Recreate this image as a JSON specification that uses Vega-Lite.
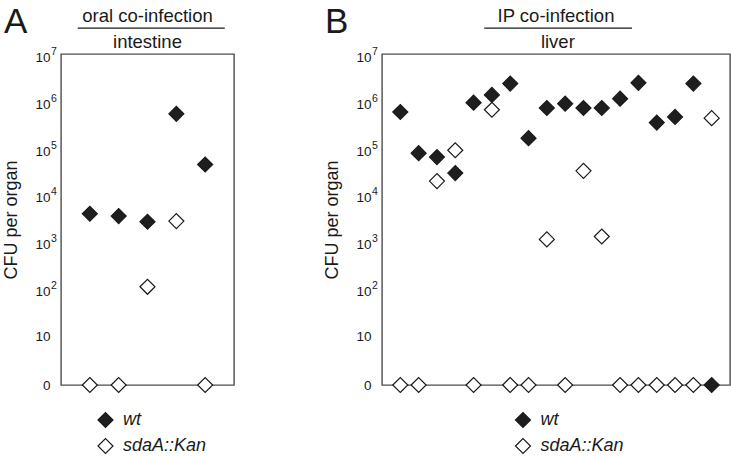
{
  "$schema": "https://vega.github.io/schema/vega-lite/v6.json",
  "padding": {"left": 2, "top": 4, "right": 5, "bottom": 0},
  "config": {
    "font": "Liberation Sans",
    "view": {"stroke": "#4d4d4d", "strokeWidth": 1.4},
    "axis": {"labelColor": "#1a1a1a", "titleColor": "#1a1a1a", "grid": false, "domain": false, "ticks": false, "labelFont": "Liberation Sans", "titleFont": "Liberation Sans"},
    "legend": {"labelFont": "Liberation Sans"}
  },
  "datasets": {
    "intestine": [
      {"mouse": 1, "strain": "wt", "cfu": 4600},
      {"mouse": 1, "strain": "sdaA::Kan", "cfu": 0},
      {"mouse": 2, "strain": "wt", "cfu": 4100},
      {"mouse": 2, "strain": "sdaA::Kan", "cfu": 0},
      {"mouse": 3, "strain": "wt", "cfu": 3100},
      {"mouse": 3, "strain": "sdaA::Kan", "cfu": 125},
      {"mouse": 4, "strain": "wt", "cfu": 630000},
      {"mouse": 4, "strain": "sdaA::Kan", "cfu": 3200},
      {"mouse": 5, "strain": "wt", "cfu": 52000},
      {"mouse": 5, "strain": "sdaA::Kan", "cfu": 0}
    ],
    "liver": [
      {"mouse": 1, "strain": "sdaA::Kan", "cfu": 0},
      {"mouse": 1, "strain": "wt", "cfu": 690000},
      {"mouse": 2, "strain": "sdaA::Kan", "cfu": 0},
      {"mouse": 2, "strain": "wt", "cfu": 91000},
      {"mouse": 3, "strain": "sdaA::Kan", "cfu": 23000},
      {"mouse": 3, "strain": "wt", "cfu": 75000},
      {"mouse": 4, "strain": "sdaA::Kan", "cfu": 105000},
      {"mouse": 4, "strain": "wt", "cfu": 34000},
      {"mouse": 5, "strain": "sdaA::Kan", "cfu": 0},
      {"mouse": 5, "strain": "wt", "cfu": 1090000},
      {"mouse": 6, "strain": "sdaA::Kan", "cfu": 770000},
      {"mouse": 6, "strain": "wt", "cfu": 1600000},
      {"mouse": 7, "strain": "sdaA::Kan", "cfu": 0},
      {"mouse": 7, "strain": "wt", "cfu": 2800000},
      {"mouse": 8, "strain": "sdaA::Kan", "cfu": 0},
      {"mouse": 8, "strain": "wt", "cfu": 190000},
      {"mouse": 9, "strain": "sdaA::Kan", "cfu": 1300},
      {"mouse": 9, "strain": "wt", "cfu": 840000},
      {"mouse": 10, "strain": "sdaA::Kan", "cfu": 0},
      {"mouse": 10, "strain": "wt", "cfu": 1040000},
      {"mouse": 11, "strain": "sdaA::Kan", "cfu": 38000},
      {"mouse": 11, "strain": "wt", "cfu": 840000},
      {"mouse": 12, "strain": "sdaA::Kan", "cfu": 1500},
      {"mouse": 12, "strain": "wt", "cfu": 840000},
      {"mouse": 13, "strain": "sdaA::Kan", "cfu": 0},
      {"mouse": 13, "strain": "wt", "cfu": 1330000},
      {"mouse": 14, "strain": "sdaA::Kan", "cfu": 0},
      {"mouse": 14, "strain": "wt", "cfu": 2900000},
      {"mouse": 15, "strain": "sdaA::Kan", "cfu": 0},
      {"mouse": 15, "strain": "wt", "cfu": 410000},
      {"mouse": 16, "strain": "sdaA::Kan", "cfu": 0},
      {"mouse": 16, "strain": "wt", "cfu": 540000},
      {"mouse": 17, "strain": "sdaA::Kan", "cfu": 0},
      {"mouse": 17, "strain": "wt", "cfu": 2800000},
      {"mouse": 18, "strain": "sdaA::Kan", "cfu": 510000},
      {"mouse": 18, "strain": "wt", "cfu": 0}
    ]
  },
  "spacing": 88,
  "resolve": {"scale": {"fill": "independent"}, "legend": {"fill": "independent"}},
  "hconcat": [
    {
      "width": 173,
      "height": 331,
      "resolve": {"axis": {"y": "independent"}},
      "layer": [
        {
          "data": {"name": "intestine"},
          "mark": {"type": "point", "shape": "diamond", "size": 225, "stroke": "#1a1a1a", "strokeWidth": 1.2, "opacity": 1},
          "encoding": {
            "x": {"field": "mouse", "type": "quantitative", "scale": {"domain": [0, 6], "nice": false, "zero": false}, "axis": null},
            "y": {"field": "cfu", "type": "quantitative", "scale": {"type": "symlog", "constant": 1, "domain": [0, 12000000], "nice": false},
              "axis": {"orient": "left", "values": [0, 10, 100, 1000, 10000, 100000, 1000000, 10000000], "labelExpr": "datum.value == 0 ? '0' : '10'", "labelFontSize": 13.5, "labelPadding": 11, "labelBaseline": "middle", "labelFlush": false, "labelOverlap": false, "title": "CFU per organ", "titleFontSize": 18, "titleFontWeight": "normal", "titlePadding": 14}},
            "fill": {"field": "strain", "type": "nominal", "scale": {"domain": ["wt", "sdaA::Kan"], "range": ["#1e1e1e", "#ffffff"]},
              "legend": {"title": null, "orient": "none", "legendX": 35.5, "legendY": 357, "symbolType": "diamond", "symbolSize": 225, "symbolStrokeColor": "#1a1a1a", "symbolStrokeWidth": 1.2, "labelFontSize": 18, "labelFontStyle": "italic", "labelColor": "#1a1a1a", "labelOffset": 8.5, "rowPadding": 6, "padding": 0}}
          }
        },
        {
          "data": {"name": "intestine"},
          "mark": {"type": "point", "opacity": 0},
          "encoding": {
            "y": {"field": "cfu", "type": "quantitative", "scale": {"type": "symlog", "constant": 1, "domain": [0, 12000000], "nice": false},
              "axis": {"orient": "left", "values": [100, 1000, 10000, 100000, 1000000, 10000000], "labelExpr": "'' + round(log(datum.value) / LN10)", "labelAlign": "left", "labelPadding": 10.5, "labelFontSize": 10.5, "labelOffset": -6, "labelBaseline": "middle", "labelFlush": false, "labelOverlap": false, "title": null}}
          }
        },
        {
          "data": {"values": [{}]},
          "mark": {"type": "text", "text": "oral co-infection", "fontSize": 18.5, "align": "center", "baseline": "alphabetic", "color": "#1a1a1a"},
          "encoding": {"x": {"datum": 3, "type": "quantitative", "axis": null}, "y": {"datum": 58000000, "type": "quantitative", "axis": null}}
        },
        {
          "data": {"values": [{}]},
          "mark": {"type": "text", "text": "intestine", "fontSize": 18.5, "align": "center", "baseline": "alphabetic", "color": "#1a1a1a"},
          "encoding": {"x": {"datum": 3, "type": "quantitative", "axis": null}, "y": {"datum": 16000000, "type": "quantitative", "axis": null}}
        },
        {
          "data": {"values": [{}]},
          "mark": {"type": "rule", "color": "#1a1a1a", "strokeWidth": 1.2},
          "encoding": {"x": {"datum": 0.58, "type": "quantitative", "axis": null}, "x2": {"datum": 5.68}, "y": {"datum": 43000000, "type": "quantitative", "axis": null}}
        },
        {
          "data": {"values": [{}]},
          "mark": {"type": "text", "text": "A", "fontSize": 35, "align": "left", "baseline": "alphabetic", "dx": -57, "color": "#1a1a1a"},
          "encoding": {"x": {"datum": 0, "type": "quantitative", "axis": null}, "y": {"datum": 34000000, "type": "quantitative", "axis": null}}
        }
      ]
    },
    {
      "width": 348,
      "height": 331,
      "resolve": {"axis": {"y": "independent"}},
      "layer": [
        {
          "data": {"name": "liver"},
          "mark": {"type": "point", "shape": "diamond", "size": 225, "stroke": "#1a1a1a", "strokeWidth": 1.2, "opacity": 1},
          "encoding": {
            "x": {"field": "mouse", "type": "quantitative", "scale": {"domain": [0, 19], "nice": false, "zero": false}, "axis": null},
            "y": {"field": "cfu", "type": "quantitative", "scale": {"type": "symlog", "constant": 1, "domain": [0, 12000000], "nice": false},
              "axis": {"orient": "left", "values": [0, 10, 100, 1000, 10000, 100000, 1000000, 10000000], "labelExpr": "datum.value == 0 ? '0' : '10'", "labelFontSize": 13.5, "labelPadding": 11, "labelBaseline": "middle", "labelFlush": false, "labelOverlap": false, "title": "CFU per organ", "titleFontSize": 18, "titleFontWeight": "normal", "titlePadding": 14}},
            "fill": {"field": "strain", "type": "nominal", "scale": {"domain": ["wt", "sdaA::Kan"], "range": ["#1e1e1e", "#ffffff"]},
              "legend": {"title": null, "orient": "none", "legendX": 132, "legendY": 357, "symbolType": "diamond", "symbolSize": 225, "symbolStrokeColor": "#1a1a1a", "symbolStrokeWidth": 1.2, "labelFontSize": 18, "labelFontStyle": "italic", "labelColor": "#1a1a1a", "labelOffset": 8.5, "rowPadding": 6, "padding": 0}}
          }
        },
        {
          "data": {"name": "liver"},
          "mark": {"type": "point", "opacity": 0},
          "encoding": {
            "y": {"field": "cfu", "type": "quantitative", "scale": {"type": "symlog", "constant": 1, "domain": [0, 12000000], "nice": false},
              "axis": {"orient": "left", "values": [100, 1000, 10000, 100000, 1000000, 10000000], "labelExpr": "'' + round(log(datum.value) / LN10)", "labelAlign": "left", "labelPadding": 10.5, "labelFontSize": 10.5, "labelOffset": -6, "labelBaseline": "middle", "labelFlush": false, "labelOverlap": false, "title": null}}
          }
        },
        {
          "data": {"values": [{}]},
          "mark": {"type": "text", "text": "IP co-infection", "fontSize": 18.5, "align": "center", "baseline": "alphabetic", "color": "#1a1a1a"},
          "encoding": {"x": {"datum": 9.5, "type": "quantitative", "axis": null}, "y": {"datum": 58000000, "type": "quantitative", "axis": null}}
        },
        {
          "data": {"values": [{}]},
          "mark": {"type": "text", "text": "liver", "fontSize": 18.5, "align": "center", "baseline": "alphabetic", "color": "#1a1a1a"},
          "encoding": {"x": {"datum": 9.6, "type": "quantitative", "axis": null}, "y": {"datum": 16000000, "type": "quantitative", "axis": null}}
        },
        {
          "data": {"values": [{}]},
          "mark": {"type": "rule", "color": "#1a1a1a", "strokeWidth": 1.2},
          "encoding": {"x": {"datum": 5.58, "type": "quantitative", "axis": null}, "x2": {"datum": 13.65}, "y": {"datum": 43000000, "type": "quantitative", "axis": null}}
        },
        {
          "data": {"values": [{}]},
          "mark": {"type": "text", "text": "B", "fontSize": 35, "align": "left", "baseline": "alphabetic", "dx": -57, "color": "#1a1a1a"},
          "encoding": {"x": {"datum": 0, "type": "quantitative", "axis": null}, "y": {"datum": 34000000, "type": "quantitative", "axis": null}}
        }
      ]
    }
  ]
}
